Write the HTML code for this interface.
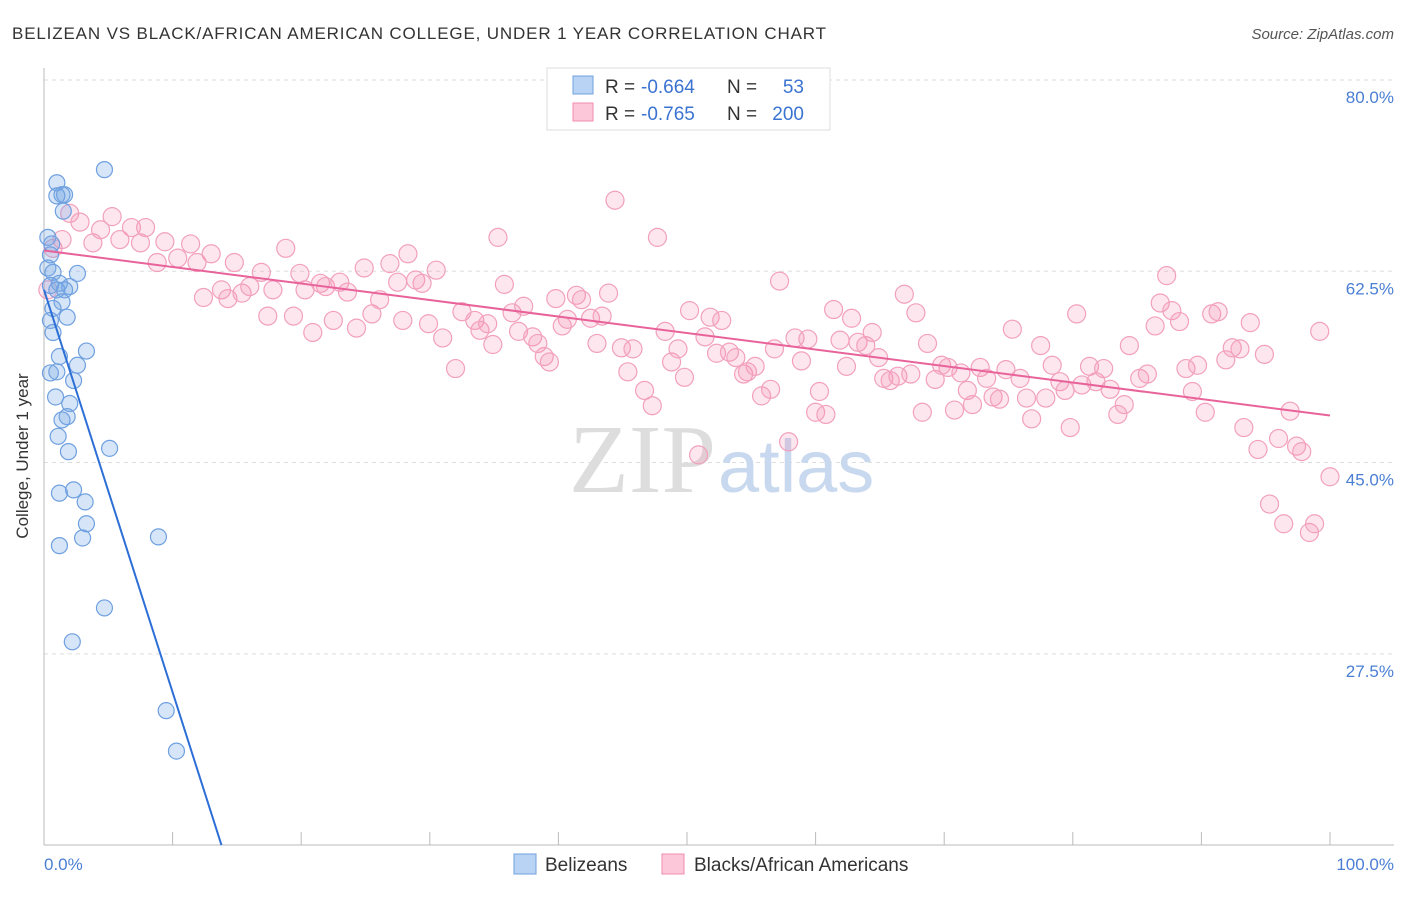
<!DOCTYPE html>
<html><head><meta charset="utf-8"><style>
body{margin:0;background:#fff;font-family:"Liberation Sans",sans-serif}
</style></head><body>
<svg id="c" width="1406" height="892" xmlns="http://www.w3.org/2000/svg">
<text x="12" y="39" font-size="17" letter-spacing="0.85" fill="#333">BELIZEAN VS BLACK/AFRICAN AMERICAN COLLEGE, UNDER 1 YEAR CORRELATION CHART</text>
<text x="1394" y="39" font-size="15" fill="#555" text-anchor="end" font-style="italic">Source: ZipAtlas.com</text>
<g id="grid"></g>
<text x="716" y="492" font-size="98" fill="#ddd" text-anchor="end" font-family="Liberation Serif">ZIP</text>
<text x="718" y="492" font-size="74" fill="#c8d8ee">atlas</text>
<g id="pts"></g>
<text x="28" y="456" font-size="17" fill="#333" text-anchor="middle" transform="rotate(-90 28 456)">College, Under 1 year</text>
<text x="44" y="870" font-size="17" fill="#4a7fd4">0.0%</text>
<text x="1394" y="870" font-size="17" fill="#4a7fd4" text-anchor="end">100.0%</text>
<g>
<rect x="547" y="68" width="283" height="62" fill="#fff" stroke="#ddd"/>
<rect x="573" y="76" width="20" height="18" fill="#b9d3f5" stroke="#6fa0e0"/>
<rect x="573" y="103" width="20" height="18" fill="#fcc8d9" stroke="#f08cb0"/>
<text x="605" y="93" font-size="19" fill="#333">R =</text>
<text x="641" y="93" font-size="19" fill="#3b73d1">-0.664</text>
<text x="727" y="93" font-size="19" fill="#333">N =</text>
<text x="804" y="93" font-size="19" fill="#3b73d1" text-anchor="end">53</text>
<text x="605" y="120" font-size="19" fill="#333">R =</text>
<text x="641" y="120" font-size="19" fill="#3b73d1">-0.765</text>
<text x="727" y="120" font-size="19" fill="#333">N =</text>
<text x="804" y="120" font-size="19" fill="#3b73d1" text-anchor="end">200</text>
</g>
<g>
<rect x="514" y="854" width="22" height="20" fill="#b9d3f5" stroke="#6fa0e0"/>
<text x="545" y="871" font-size="19" fill="#333">Belizeans</text>
<rect x="662" y="854" width="22" height="20" fill="#fcc8d9" stroke="#f08cb0"/>
<text x="694" y="871" font-size="19" fill="#333">Blacks/African Americans</text>
</g>
</svg>
<script>
const yTicks=[80,62.5,45,27.5];
const yTickLabels=["80.0%","62.5%","45.0%","27.5%"];
const xTicks=[0,10,20,30,40,50,60,70,80,90,100];
const blueX=[4.7,1.0,1.4,1.6,1.0,1.5,0.3,0.6,0.5,0.3,0.7,2.6,1.2,0.5,2.0,1.6,1.0,1.4,0.7,1.8,0.5,0.7,3.3,1.2,2.6,0.5,1.0,2.3,0.9,2.0,1.8,1.4,1.1,1.9,5.1,1.2,2.3,3.2,3.3,1.2,3.0,8.9,4.7,2.2,9.5,10.3];
const blueY=[71.8,70.6,69.5,69.5,69.4,68.0,65.6,65.0,64.0,62.8,62.4,62.3,61.4,61.2,61.1,60.8,60.8,59.7,59.1,58.3,58.0,56.9,55.2,54.7,53.9,53.2,53.3,52.5,51.0,50.4,49.2,48.9,47.4,46.0,46.3,42.2,42.5,41.4,39.4,37.4,38.1,38.2,31.7,28.6,22.3,18.6];
const pinkX=[2.0,2.8,3.8,4.4,5.3,5.9,6.8,7.5,7.9,8.8,9.4,10.4,11.4,11.9,12.4,13.0,13.8,14.8,14.3,15.4,16.0,16.9,17.4,17.8,18.8,19.4,20.3,19.9,20.9,21.5,21.9,22.5,23.0,23.6,24.3,24.9,25.5,26.1,26.9,27.5,27.9,28.3,28.9,29.4,29.9,30.5,31.0,32.0,32.5,33.5,33.9,34.5,34.9,35.3,35.8,36.4,36.9,37.3,38.0,38.4,38.9,39.3,39.8,40.3,40.7,41.4,41.8,42.5,43.0,43.4,43.9,44.4,44.9,45.4,45.8,46.7,47.3,47.7,48.3,48.8,49.3,49.8,50.2,50.9,51.4,51.8,52.3,52.7,53.3,53.8,54.4,54.7,55.3,55.8,56.5,56.8,57.2,57.9,58.4,58.9,59.4,60.0,60.3,60.8,61.4,61.9,62.4,62.8,63.3,63.9,64.4,64.9,65.3,65.8,66.4,66.9,67.4,67.8,68.3,68.7,69.3,69.8,70.3,70.8,71.3,71.8,72.2,72.8,73.3,73.8,74.3,74.8,75.3,75.9,76.4,76.8,77.5,77.9,78.4,79.0,79.4,79.8,80.3,80.7,81.3,81.8,82.4,82.9,83.5,84.0,84.4,85.2,85.8,86.4,86.8,87.3,87.7,88.3,88.8,89.3,89.7,90.3,90.8,91.3,91.9,92.4,93.0,93.3,93.8,94.4,94.9,95.3,96.0,96.4,96.9,97.4,97.8,98.4,98.8,99.2,100.0,0.7,1.4,0.3];
const pinkY=[67.8,67.0,65.1,66.3,67.5,65.4,66.5,65.1,66.5,63.3,65.2,63.7,65.0,63.3,60.1,64.1,60.8,63.3,60.0,60.5,61.1,62.4,58.4,60.8,64.6,58.4,60.8,62.3,56.9,61.4,61.1,58.0,61.5,60.6,57.3,62.8,58.6,59.9,63.2,61.5,58.0,64.1,61.7,61.4,57.7,62.6,56.4,53.6,58.8,58.0,57.1,57.7,55.8,65.6,61.3,58.7,57.0,59.3,56.5,55.9,54.7,54.2,60.0,57.5,58.1,60.3,59.9,58.2,55.9,58.4,60.5,69.0,55.5,53.3,55.4,51.6,50.2,65.6,57.0,54.2,55.4,52.8,58.9,45.7,56.5,58.3,55.0,58.0,55.1,54.6,53.1,53.3,53.8,51.1,51.7,55.4,61.6,46.9,56.4,54.3,56.3,49.6,51.5,49.4,59.0,56.2,53.8,58.2,56.0,55.7,56.9,54.6,52.7,52.5,52.9,60.4,53.1,58.7,49.6,55.9,52.6,53.9,53.7,49.8,53.2,51.6,50.3,53.7,52.7,51.0,50.8,53.5,57.2,52.7,50.9,49.0,55.7,50.9,53.9,52.4,51.6,48.2,58.6,52.1,53.8,52.4,53.6,51.7,49.4,50.3,55.7,52.7,53.1,57.5,59.6,62.1,58.9,57.9,53.6,51.5,53.9,49.6,58.6,58.8,54.4,55.5,55.4,48.2,57.8,46.2,54.9,41.2,47.2,39.4,49.7,46.5,46.0,38.6,39.4,57.0,43.7,64.6,65.4,60.8];
const blueLine=[[0,60.8],[13.8,10]];
const pinkLine=[[0,64.4],[100,49.3]];
const NS="http://www.w3.org/2000/svg";
const X=v=>44+v*12.86, Y=v=>80+(80-v)*10.93;
function mk(t,a,p){const e=document.createElementNS(NS,t);for(const k in a)e.setAttribute(k,a[k]);p.appendChild(e);return e;}
const g=document.getElementById('grid');
yTicks.forEach((t,i)=>{
 const l=mk('line',{x1:44,x2:1394,y1:Y(t),y2:Y(t),stroke:'#ddd','stroke-dasharray':'4,4'},g);
 
 
 const tx=mk('text',{x:1394,y:Y(t)+23,'font-size':17,fill:'#4a7fd4','text-anchor':'end'},g);
 tx.textContent=yTickLabels[i];
 
 
});
const ax=mk('line',{x1:44,x2:44,y1:68,y2:845,stroke:'#bbb'},g);


const bx=mk('line',{x1:44,x2:1394,y1:845,y2:845,stroke:'#bbb'},g);


xTicks.forEach(t=>{
 const l=mk('line',{x1:X(t),x2:X(t),y1:832,y2:845,stroke:'#bbb'},g);
 
 
});
const p=document.getElementById('pts');
pinkX.forEach((x,i)=>{
 const c=mk('circle',{cx:X(x),cy:Y(pinkY[i]),r:9,fill:'rgba(244,143,177,0.22)',stroke:'#f2a0bd','stroke-width':1.2},p);
 
 
});
blueX.forEach((x,i)=>{
 const c=mk('circle',{cx:X(x),cy:Y(blueY[i]),r:8,fill:'rgba(120,170,230,0.3)',stroke:'#6fa0e0','stroke-width':1.2},p);
 
 
});
const pl=mk('line',{x1:X(pinkLine[0][0]),y1:Y(pinkLine[0][1]),x2:X(pinkLine[1][0]),y2:Y(pinkLine[1][1]),stroke:'#e8639a','stroke-width':2},p);


const bl=mk('line',{x1:X(blueLine[0][0]),y1:Y(blueLine[0][1]),x2:X(blueLine[1][0]),y2:Y(blueLine[1][1]),stroke:'#2d6fd6','stroke-width':2},p);


</script>
</body></html>
